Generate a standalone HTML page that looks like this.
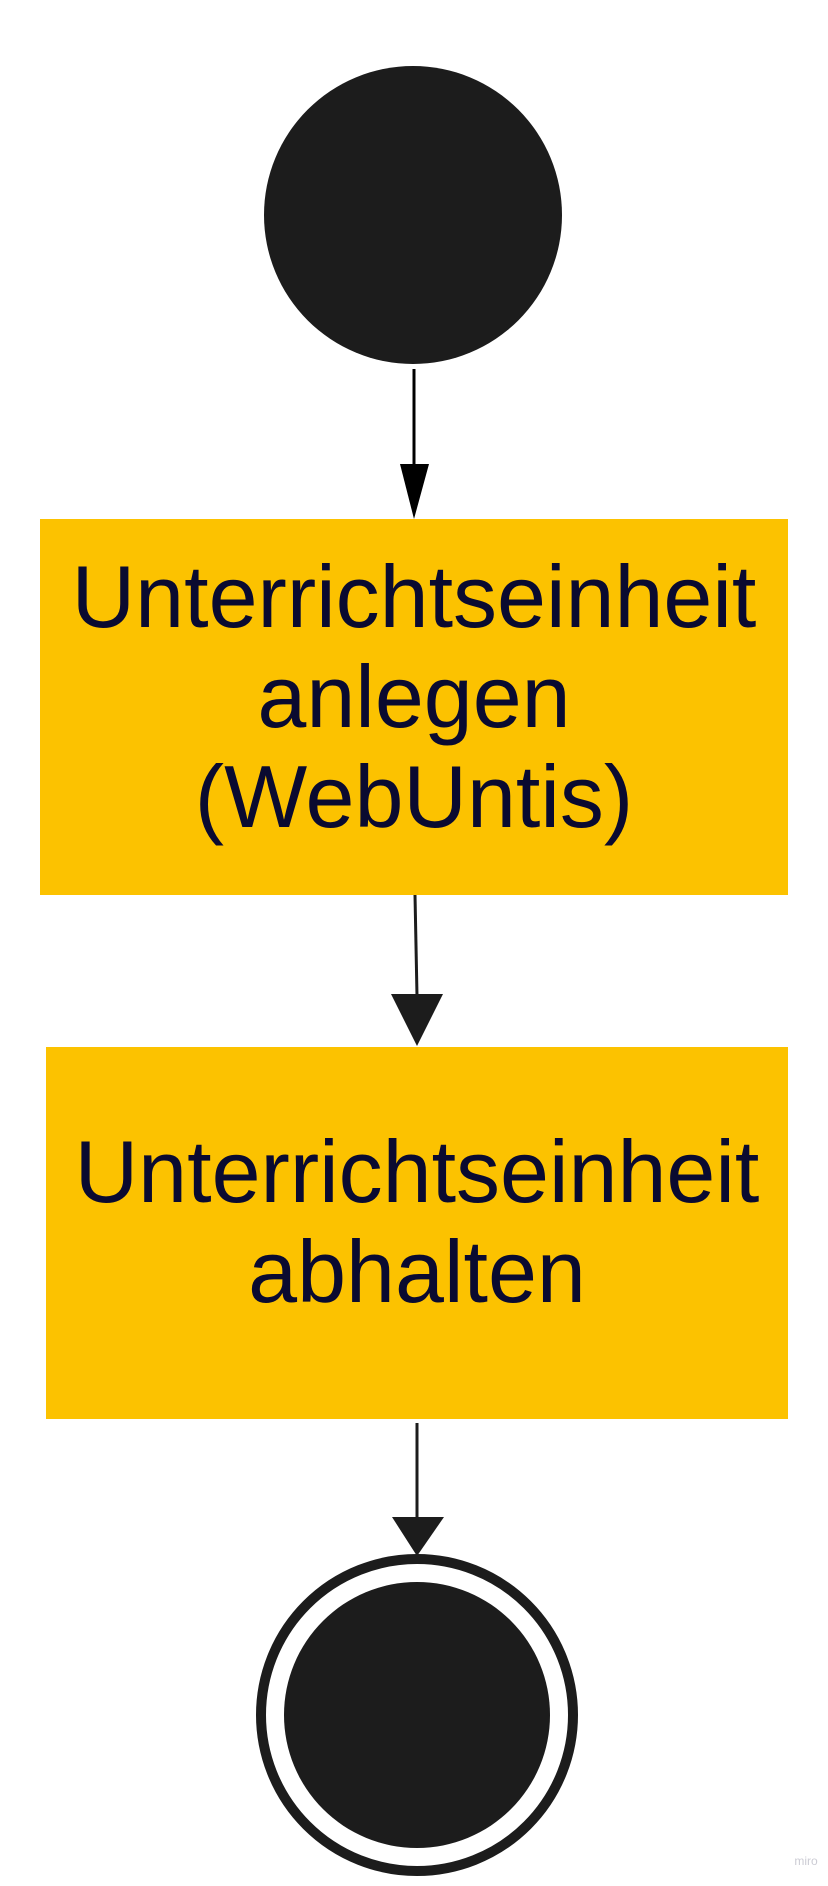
<!DOCTYPE html>
<html><head><meta charset="utf-8"><style>
html,body{margin:0;padding:0;background:#fff;}
body{width:828px;height:1886px;position:relative;overflow:hidden;font-family:"Liberation Sans",sans-serif;}
.box{position:absolute;background:#fcc200;color:#0a0a30;text-align:center;font-size:88px;line-height:100px;display:flex;flex-direction:column;justify-content:center;align-items:center;box-sizing:border-box;}
</style></head><body>
<svg width="828" height="1886" style="position:absolute;left:0;top:0">
<circle cx="413" cy="215" r="149" fill="#1c1c1c"/>
<line x1="414" y1="369" x2="414" y2="470" stroke="#000" stroke-width="3"/>
<polygon points="400,464 429,464 414,519" fill="#000"/>
<line x1="415" y1="895" x2="417" y2="996" stroke="#1c1c1c" stroke-width="3"/>
<polygon points="391,994 443,994 417,1046" fill="#1c1c1c"/>
<line x1="417" y1="1423" x2="417" y2="1520" stroke="#1c1c1c" stroke-width="3"/>
<polygon points="392,1517 444,1517 417,1556" fill="#1c1c1c"/>
<circle cx="417" cy="1715" r="156" fill="none" stroke="#1c1c1c" stroke-width="10"/>
<circle cx="417" cy="1715" r="133" fill="#1c1c1c"/>
<text x="806" y="1865" font-family="Liberation Sans,sans-serif" font-size="12" fill="#ccccd4" text-anchor="middle">miro</text>
</svg>
<div class="box" style="left:40px;top:519px;width:748px;height:376px;padding-bottom:20px;"><div>Unterrichtseinheit</div><div>anlegen</div><div>(WebUntis)</div></div>
<div class="box" style="left:46px;top:1047px;width:742px;height:372px;padding-bottom:22px;"><div>Unterrichtseinheit</div><div>abhalten</div></div>
</body></html>
